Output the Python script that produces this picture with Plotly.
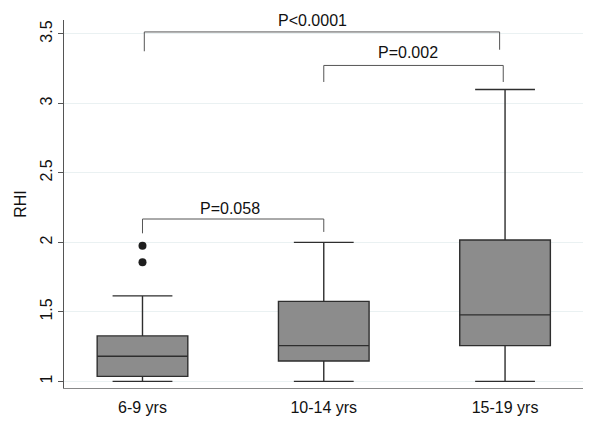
import plotly.graph_objects as go

categories = ["6-9 yrs", "10-14 yrs", "15-19 yrs"]
lower_whisker = [1.00, 1.00, 1.00]
q1_vals = [1.036, 1.146, 1.257]
median_vals = [1.18, 1.257, 1.478]
q3_vals = [1.327, 1.575, 2.017]
upper_whisker = [1.615, 2.00, 3.10]
outlier_cat = ["6-9 yrs", "6-9 yrs"]
outlier_vals = [1.976, 1.856]

# comparison brackets: (left index, right index, bar height, left drop, right drop, label)
brackets = [
    (0.0, 1.0, 2.168, 2.065, 2.075, "P=0.058"),
    (0.01, 1.97, 3.514, 3.375, 3.386, "P<0.0001"),
    (1.0, 1.99, 3.273, 3.154, 3.154, "P=0.002"),
]
label_pos = [(0.482, 2.247), (0.94, 3.595), (1.465, 3.365)]

FONT = "Liberation Sans, Arial, Helvetica, sans-serif"
fig = go.Figure()
fig.add_trace(go.Box(
    x=categories,
    q1=q1_vals, median=median_vals, q3=q3_vals,
    lowerfence=lower_whisker, upperfence=upper_whisker,
    fillcolor="#8c8c8c", line=dict(color="#2e2e2e", width=1.4),
    whiskerwidth=0.66, width=0.5, boxpoints=False, showlegend=False,
))
fig.add_trace(go.Scatter(
    x=outlier_cat, y=outlier_vals, mode="markers",
    marker=dict(color="#1e1e1e", size=8), showlegend=False,
))

for (xa, xb, yh, yl, yr, txt), (tx, ty) in zip(brackets, label_pos):
    fig.add_shape(type="path",
                  path=f"M {xa} {yl} L {xa} {yh} L {xb} {yh} L {xb} {yr}",
                  xref="x", yref="y", line=dict(color="#555555", width=1))
    fig.add_annotation(x=tx, y=ty, text=txt, showarrow=False, xref="x", yref="y",
                       font=dict(size=16, color="#111111", family=FONT))

# page body has an 8px margin, so the figure is sized to fit inside the window
fig.update_layout(
    width=595, height=433,
    margin=dict(l=56, r=20, t=12, b=53),
    paper_bgcolor="white", plot_bgcolor="white",
    font=dict(family=FONT, color="#111111"),
    xaxis=dict(
        type="category", range=[-0.433, 2.43], automargin=False,
        showgrid=False, showline=True, linecolor="#888888", linewidth=1.3,
        ticks="outside", ticklen=5, tickcolor="rgba(0,0,0,0)",
        tickfont=dict(size=16), zeroline=False,
    ),
    yaxis=dict(
        range=[0.952, 3.6], tickvals=[1, 1.5, 2, 2.5, 3, 3.5],
        ticktext=["1", "1.5", "2", "2.5", "3", "3.5"], automargin=False,
        tickangle=-90, tickfont=dict(size=16),
        ticks="outside", ticklen=5, tickcolor="#555555",
        showgrid=True, gridcolor="#eaf1f2", gridwidth=1,
        showline=True, linecolor="#555555", linewidth=1,
        zeroline=False,
        title=dict(text="RHI", font=dict(size=16), standoff=6),
    ),
)

fig.write_html("out.html")
